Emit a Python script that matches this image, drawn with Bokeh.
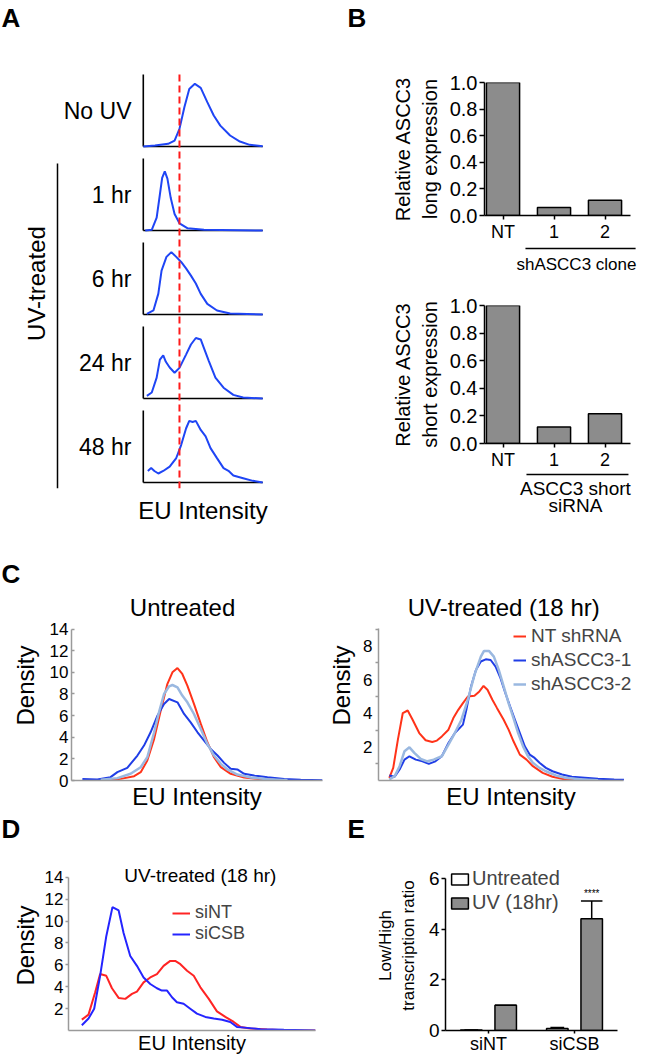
import math
from bokeh.plotting import figure
from bokeh.layouts import row, column
from bokeh.models import (Range1d, FactorRange, FixedTicker, Legend, LegendItem,
                          ColumnDataSource, PrintfTickFormatter)
from bokeh.transform import dodge
from bokeh.embed import file_html
from bokeh.resources import INLINE
from bokeh.core.properties import value

FONT = "Liberation Sans"

# ---------------- data ----------------
# Panel A: EU intensity distributions (fraction of panel height)
a_groups = ["No UV", "1 hr", "6 hr", "24 hr", "48 hr"]
a_threshold = 30.3
a_nouv_x = [0, 9.8, 20.8, 26.2, 30.3, 34.4, 38.5, 43.2, 48.1, 53.6, 59.0, 64.5, 72.7, 80.9, 89.1, 100]
a_nouv_y = [0.0, 0.014, 0.037, 0.083, 0.245, 0.546, 0.80, 0.87, 0.815, 0.616, 0.43, 0.29, 0.153, 0.069, 0.023, 0.005]
a_1h_x = [1.6, 7.1, 11.2, 13.9, 15.8, 18.0, 20.2, 23.0, 26.2, 30.3, 37.2, 50.8, 100]
a_1h_y = [0.0, 0.01, 0.18, 0.50, 0.73, 0.82, 0.72, 0.45, 0.23, 0.10, 0.03, 0.01, 0.0]
a_6h_x = [3.0, 8.5, 12.6, 15.3, 19.4, 23.5, 27.6, 31.7, 35.8, 39.9, 44.0, 48.1, 53.6, 61.7, 72.7, 100]
a_6h_y = [0.01, 0.056, 0.29, 0.61, 0.80, 0.866, 0.80, 0.73, 0.64, 0.54, 0.43, 0.287, 0.148, 0.056, 0.014, 0.0]
a_24h_x = [3.0, 7.1, 11.2, 13.9, 16.7, 18.9, 22.1, 26.2, 30.3, 35.8, 39.9, 44.0, 48.1, 50.8, 54.9, 60.4, 67.2, 75.4, 83.6, 100]
a_24h_y = [0.037, 0.083, 0.29, 0.54, 0.60, 0.51, 0.43, 0.358, 0.425, 0.61, 0.75, 0.84, 0.82, 0.70, 0.52, 0.29, 0.15, 0.05, 0.014, 0.0]
a_48h_x = [3.8, 6.6, 9.3, 12.6, 16.7, 22.1, 27.6, 31.7, 35.8, 38.5, 41.3, 44.0, 48.1, 52.2, 56.3, 61.7, 67.2, 71.3, 75.4, 83.6, 91.8, 100]
a_48h_y = [0.16, 0.20, 0.16, 0.125, 0.16, 0.22, 0.34, 0.52, 0.75, 0.856, 0.84, 0.856, 0.73, 0.64, 0.477, 0.338, 0.199, 0.162, 0.097, 0.06, 0.023, 0.0]

# Panel B: relative expression
b_cats = ["NT", "1", "2"]
b_long = [1.0, 0.06, 0.115]
b_short = [1.0, 0.12, 0.215]
b_ticks = [0.0, 0.2, 0.4, 0.6, 0.8, 1.0]

# Panel C left: Untreated
c1_nt_x = [15.1, 20.4, 25.7, 28.3, 30.9, 33.6, 36.2, 38.8, 40.8, 42.8, 44.7, 46.7, 49.3, 52.0, 54.6, 57.2, 59.9, 63.8, 69.1, 75.7, 84.9]
c1_nt_y = [0.03, 0.15, 0.40, 0.77, 1.85, 3.85, 6.46, 8.92, 10.0, 10.4, 9.85, 8.77, 7.08, 5.23, 3.54, 2.15, 1.23, 0.62, 0.28, 0.12, 0.0]
c1_s1_x = [5.3, 11.2, 16.4, 19.1, 23.0, 27.0, 29.6, 32.2, 34.9, 37.5, 39.5, 42.8, 45.4, 48.0, 50.7, 53.3, 55.9, 58.6, 61.2, 63.8, 66.4, 69.1, 73.0, 78.3, 84.9, 91.4, 100]
c1_s1_y = [0.15, 0.09, 0.31, 0.77, 1.17, 2.31, 3.23, 4.46, 6.0, 7.08, 7.54, 7.23, 6.15, 5.38, 4.46, 3.69, 2.92, 2.31, 1.63, 1.08, 1.02, 0.62, 0.46, 0.31, 0.15, 0.06, 0.03]
c1_s2_x = [12.5, 19.1, 24.3, 28.3, 30.9, 33.6, 35.5, 37.5, 39.5, 40.8, 42.8, 44.7, 46.7, 49.3, 52.0, 54.6, 57.2, 59.9, 62.5, 66.4, 71.7, 78.3, 86.2]
c1_s2_y = [0.06, 0.22, 0.62, 1.23, 2.15, 4.46, 6.31, 8.0, 8.71, 8.83, 8.62, 7.85, 7.23, 6.15, 4.77, 3.38, 2.31, 1.54, 1.02, 0.55, 0.28, 0.12, 0.03]
c1_ticks = [0, 2, 4, 6, 8, 10, 12, 14]

# Panel C right: UV-treated (18 hr)
c2_nt_x = [4.4, 6.0, 7.9, 9.9, 11.9, 13.9, 16.6, 19.2, 21.9, 23.8, 25.8, 28.5, 30.5, 32.5, 34.4, 36.4, 39.1, 41.1, 42.8, 44.4, 46.4, 48.3, 51.0, 53.0, 55.0, 57.6, 60.3, 62.9, 66.9, 70.9, 76.2, 82.8]
c2_nt_y = [0.16, 0.75, 2.43, 4.01, 4.16, 3.61, 2.82, 2.39, 2.29, 2.37, 2.62, 3.02, 3.71, 4.20, 4.60, 4.99, 5.03, 5.29, 5.62, 5.39, 4.80, 4.30, 3.61, 3.02, 2.33, 1.54, 1.24, 0.85, 0.45, 0.22, 0.06, 0.0]
c2_s1_x = [4.4, 6.6, 8.6, 10.6, 12.6, 15.2, 17.9, 20.5, 23.2, 25.8, 28.5, 31.1, 34.4, 35.8, 37.7, 39.7, 41.7, 43.7, 45.7, 47.7, 49.7, 51.7, 53.6, 55.6, 57.6, 59.6, 61.6, 63.6, 65.6, 68.2, 70.9, 74.8, 78.8, 84.1, 89.4, 96.0, 100]
c2_s1_y = [0.30, 0.22, 0.65, 1.24, 1.44, 1.24, 1.14, 0.99, 1.14, 1.44, 2.23, 2.82, 3.32, 4.20, 5.59, 6.57, 7.07, 7.20, 7.16, 6.77, 6.08, 5.19, 4.40, 3.61, 2.82, 2.03, 1.54, 1.34, 1.05, 0.75, 0.55, 0.36, 0.22, 0.16, 0.10, 0.06, 0.04]
c2_s2_x = [4.4, 6.6, 8.6, 10.6, 12.6, 14.6, 17.2, 19.9, 22.5, 25.8, 28.5, 31.1, 33.8, 36.4, 39.1, 41.7, 43.0, 45.0, 47.0, 49.0, 51.0, 53.0, 55.0, 56.9, 58.9, 60.9, 62.9, 65.6, 68.2, 72.2, 76.2, 82.8, 89.4]
c2_s2_y = [0.06, 0.26, 0.85, 1.74, 1.97, 1.64, 1.28, 1.14, 1.24, 1.44, 2.13, 2.82, 3.61, 4.80, 6.28, 7.36, 7.70, 7.70, 7.36, 6.57, 5.59, 4.60, 3.71, 2.82, 2.03, 1.44, 1.05, 0.75, 0.55, 0.30, 0.16, 0.06, 0.02]
c2_ticks = [2, 4, 6, 8]
c2_minor = [1, 3, 5, 7, 9]

# Panel D: UV-treated (18 hr), siNT vs siCSB
d_nt_x = [5.4, 8.1, 10.8, 12.8, 15.3, 17.6, 20.3, 23.0, 25.7, 27.7, 30.4, 33.1, 35.8, 38.5, 41.2, 43.2, 45.3, 48.0, 50.7, 53.4, 56.8, 60.1, 63.5, 66.9, 69.6, 73.6, 80.4, 87.2, 100]
d_nt_y = [0.99, 1.45, 3.50, 5.16, 5.00, 3.86, 2.98, 2.89, 3.35, 3.56, 4.40, 4.85, 5.16, 5.91, 6.36, 6.36, 6.06, 5.46, 5.00, 3.95, 2.89, 1.75, 1.24, 0.78, 0.33, 0.18, 0.09, 0.03, 0.0]
d_csb_x = [5.4, 8.1, 10.4, 12.8, 15.3, 17.8, 20.3, 22.3, 25.0, 27.7, 30.4, 33.1, 35.8, 37.8, 39.9, 41.9, 43.9, 46.6, 49.3, 52.0, 55.4, 58.8, 62.2, 65.5, 68.2, 72.3, 77.7, 87.2, 100]
d_csb_y = [0.48, 1.09, 1.99, 5.00, 8.62, 11.28, 10.97, 8.92, 6.81, 5.91, 4.85, 4.25, 3.86, 3.65, 3.65, 3.04, 2.59, 2.44, 1.99, 1.54, 1.24, 1.09, 0.99, 0.78, 0.33, 0.24, 0.12, 0.06, 0.0]
d_ticks = [2, 4, 6, 8, 10, 12, 14]

# Panel E: Low/High transcription ratio
e_groups = ["siNT", "siCSB"]
e_untreated = [0.02, 0.08]
e_untreated_err = [0.0, 0.04]
e_uv = [1.0, 4.4]
e_uv_err = [0.0, 0.7]
e_sig = ["", "****"]
e_ticks = [0, 2, 4, 6]

# ---------------- styles ----------------
BLUE_A = "#1f45f5"
RED_A = "#ff1a1a"
GRAY = "#8c8c8c"
C_RED = "#ff3319"
C_BLUE = "#1f3de6"
C_LBLUE = "#9ab8e0"
D_RED = "#ff2424"
D_BLUE = "#2424ff"
AX_GRAY = "#9a9a9a"
W = 648


def make_fig(w, h, l, r, t, b, **kw):
    p = figure(width=w, height=h, output_backend="svg", toolbar_location=None,
               min_border_left=l, min_border_right=r, min_border_top=t, min_border_bottom=b, **kw)
    p.outline_line_color = None
    p.xgrid.grid_line_color = None
    p.ygrid.grid_line_color = None
    p.background_fill_color = "white"
    p.border_fill_color = "white"
    return p


def style_axis(ax, size="17px", color="black", width=1.5):
    ax.axis_line_color = color
    ax.axis_line_width = width
    ax.major_tick_line_color = color
    ax.major_tick_line_width = width
    ax.minor_tick_line_color = None
    ax.major_label_text_font = FONT
    ax.major_label_text_font_size = size
    ax.major_label_text_color = "black"
    ax.axis_label_text_font = FONT
    ax.axis_label_text_font_style = "normal"
    ax.axis_label_text_color = "black"


def header(h, items):
    p = make_fig(W, h, 0, 0, 0, 0, x_range=Range1d(0, W), y_range=Range1d(h, 0))
    p.axis.visible = False
    for t, x, y in items:
        p.text(x=[x], y=[y], text=[t], text_font=value(FONT), text_font_size="26px",
               text_font_style="bold", text_baseline="middle", text_align="left")
    return p


def add_text(p, text, x, y, size):
    p.text(x=[x], y=[y], text=[text], text_font=value(FONT), text_font_size=size,
           text_align="center", text_baseline="middle")


# ---------------- Panel A ----------------
BAND = 0.4286


def ridge(cat, vals):
    return [(cat, -BAND + 2 * BAND * v) for v in vals]


a_yrange = FactorRange(factors=a_groups[::-1], range_padding=0)
figA = make_fig(240, 492, 80, 36, 32, 40, x_range=Range1d(-1.5, 101.5), y_range=a_yrange)
ax = figA.xaxis[0]
style_axis(ax)
ax.ticker = FixedTicker(ticks=[])
ax.axis_line_color = None
ax.major_tick_line_color = None
ax.major_tick_out = 0
ax.major_label_standoff = 0
ax.axis_label = "EU Intensity"
ax.axis_label_text_font_size = "24px"
ax.axis_label_standoff = 8
ay = figA.yaxis[0]
style_axis(ay, size="23px")
ay.axis_line_color = None
ay.major_tick_line_color = None
ay.major_tick_out = 0
ay.major_tick_in = 0
ay.major_label_standoff = 10

curves = [(a_nouv_x, a_nouv_y), (a_1h_x, a_1h_y), (a_6h_x, a_6h_y), (a_24h_x, a_24h_y), (a_48h_x, a_48h_y)]
xmin, xmax = 0, 100
figA.segment(x0=[xmin] * 5, y0=[(c, -BAND) for c in a_groups], x1=[xmax] * 5,
             y1=[(c, -BAND) for c in a_groups], line_color="black", line_width=1.6)
figA.segment(x0=[xmin] * 5, y0=[(c, -BAND) for c in a_groups], x1=[xmin] * 5,
             y1=[(c, BAND) for c in a_groups], line_color="black", line_width=1.6)
for cat, (xs, ys) in zip(a_groups, curves):
    figA.line(x=xs, y=ridge(cat, ys), line_color=BLUE_A, line_width=2)
figA.segment(x0=[a_threshold], y0=[(a_groups[0], BAND)], x1=[a_threshold],
             y1=[(a_groups[-1], -0.5)], line_color=RED_A, line_width=2, line_dash="7 4")

figAb = make_fig(60, 492, 0, 0, 32, 40, x_range=Range1d(0, 60), y_range=a_yrange)
figAb.axis.visible = False
figAb.segment(x0=[57], y0=[(a_groups[1], 0.37)], x1=[57], y1=[(a_groups[-1], -0.5)],
              line_color="black", line_width=1.5)
figAb.text(x=[36], y=[(a_groups[2], -0.06)], text=["UV-treated"], angle=math.pi / 2,
           text_align="center", text_baseline="middle", text_font=value(FONT), text_font_size="24px")

# ---------------- Panel B ----------------
B_XR = (-0.363, 2.696)


def bar_b(height, top, bottom, vals, ylabel):
    p = make_fig(348, height, 184, 8, top, bottom, x_range=Range1d(*B_XR), y_range=Range1d(0, 1.0))
    p.vbar(x=list(range(len(b_cats))), top=vals, width=0.65, fill_color=GRAY,
           line_color="black", line_width=1.5)
    yx = p.yaxis[0]
    style_axis(yx, size="20px")
    yx.ticker = FixedTicker(ticks=b_ticks)
    yx.formatter = PrintfTickFormatter(format="%.1f")
    yx.major_tick_out = 5
    yx.major_tick_in = 0
    yx.major_label_standoff = 2
    yx.axis_label = ylabel
    yx.axis_label_text_font_size = "20px"
    yx.axis_label_standoff = 6
    xx = p.xaxis[0]
    style_axis(xx, size="18px")
    xx.bounds = (B_XR[0], 2.5)
    xx.ticker = FixedTicker(ticks=list(range(len(b_cats))))
    xx.major_label_overrides = {i: c for i, c in enumerate(b_cats)}
    xx.major_tick_out = 4
    xx.major_tick_in = 0
    xx.major_label_standoff = 2
    return p


def group_fig(height, line_y, x0, x1, texts):
    p = make_fig(348, height, 184, 8, 0, 0, x_range=Range1d(*B_XR), y_range=Range1d(height, 0))
    p.axis.visible = False
    p.segment(x0=[x0], y0=[line_y], x1=[x1], y1=[line_y], line_color="black", line_width=1.5)
    for t, tx, ty, size in texts:
        add_text(p, t, tx, ty, size)
    return p


figB1 = bar_b(208, 46, 27, b_long, "Relative ASCC3\nlong expression")
figB1g = group_fig(30, 4, 0.44, 2.6, [("shASCC3 clone", 1.44, 20, "17px")])
figB2 = bar_b(198, 31, 27, b_short, "Relative ASCC3\nshort expression")
figB2g = group_fig(56, 2, 0.46, 2.46, [("ASCC3 short", 1.42, 16, "19px"), ("siRNA", 1.42, 33, "19px")])


# ---------------- Panel C ----------------
def density_fig(w, l, r, xr, xbound, yend, bound, ticks, minor=None):
    p = make_fig(w, 222, l, r, 0, 30, x_range=Range1d(*xr), y_range=Range1d(0, yend))
    yx = p.yaxis[0]
    style_axis(yx, color=AX_GRAY)
    yx.bounds = (0, bound)
    yx.ticker = FixedTicker(ticks=ticks, minor_ticks=minor or [])
    yx.major_label_standoff = 3
    yx.axis_label = "Density"
    yx.axis_label_text_font_size = "24px"
    xx = p.xaxis[0]
    style_axis(xx, color=AX_GRAY)
    xx.bounds = xbound
    xx.ticker = FixedTicker(ticks=[])
    xx.major_label_standoff = 0
    xx.axis_label = "EU Intensity"
    xx.axis_label_text_font_size = "24px"
    xx.axis_label_standoff = 2
    return p


figC1 = density_fig(325, 71, 3, (1, 100), (1, 100), 17.57, 14, c1_ticks)
figC1.yaxis[0].major_tick_in = 3
figC1.yaxis[0].major_tick_out = 0
figC1.yaxis[0].axis_label_standoff = 8
figC1.line(c1_nt_x, c1_nt_y, line_color=C_RED, line_width=2)
figC1.line(c1_s1_x, c1_s1_y, line_color=C_BLUE, line_width=2)
figC1.line(c1_s2_x, c1_s2_y, line_color=C_LBLUE, line_width=2.5)
add_text(figC1, "Untreated", 44.8, 16.0, "24px")

figC2 = density_fig(323, 47, 5, (0, 107.97), (0, 100), 11.29, 9.06, c2_ticks, c2_minor)
c2y = figC2.yaxis[0]
c2y.major_tick_out = 0
c2y.major_tick_in = 0
c2y.minor_tick_line_color = AX_GRAY
c2y.minor_tick_line_width = 1.5
c2y.minor_tick_out = 3
c2y.minor_tick_in = 0
c2y.axis_label_standoff = 5
r1 = figC2.line(c2_nt_x, c2_nt_y, line_color=C_RED, line_width=2)
r2 = figC2.line(c2_s1_x, c2_s1_y, line_color=C_BLUE, line_width=2)
r3 = figC2.line(c2_s2_x, c2_s2_y, line_color=C_LBLUE, line_width=2.5)
add_text(figC2, "UV-treated (18 hr)", 51.0, 10.3, "24px")
legC = Legend(items=[LegendItem(label="NT shRNA", renderers=[r1]),
                     LegendItem(label="shASCC3-1", renderers=[r2]),
                     LegendItem(label="shASCC3-2", renderers=[r3])],
              location=(135, 85), glyph_width=13, glyph_height=22, label_height=22,
              spacing=2, padding=0, margin=0, label_standoff=5,
              label_text_font=FONT, label_text_font_size="19px",
              background_fill_color=None, border_line_color=None)
figC2.add_layout(legC)

# ---------------- Panel D ----------------
figD = make_fig(330, 211, 68, 15, 15, 24, x_range=Range1d(0, 100), y_range=Range1d(0, 15.54))
dy = figD.yaxis[0]
style_axis(dy, color=AX_GRAY)
dy.bounds = (0, 14)
dy.ticker = FixedTicker(ticks=d_ticks)
dy.major_tick_out = 3
dy.major_tick_in = 0
dy.major_label_standoff = 2
dy.axis_label = "Density"
dy.axis_label_text_font_size = "24px"
dy.axis_label_standoff = 3
dx = figD.xaxis[0]
style_axis(dx, color=AX_GRAY)
dx.ticker = FixedTicker(ticks=[])
dx.major_label_standoff = 0
dx.axis_label = "EU Intensity"
dx.axis_label_text_font_size = "20px"
dx.axis_label_standoff = 1
rd1 = figD.line(d_nt_x, d_nt_y, line_color=D_RED, line_width=2)
rd2 = figD.line(d_csb_x, d_csb_y, line_color=D_BLUE, line_width=2)
add_text(figD, "UV-treated (18 hr)", 53.4, 14.18, "19px")
for lbl, rr, ly in [("siNT", rd1, 107), ("siCSB", rd2, 86)]:
    figD.add_layout(Legend(items=[LegendItem(label=lbl, renderers=[rr])],
                           location=(104, ly), glyph_width=18, glyph_height=20, label_height=20,
                           spacing=0, padding=0, margin=0, label_standoff=5,
                           label_text_font=FONT, label_text_font_size="18px",
                           background_fill_color=None, border_line_color=None))

# ---------------- Panel E ----------------
e_src = ColumnDataSource(dict(
    g=e_groups, untreated=e_untreated, uv=e_uv,
    un_hi=[v + e for v, e in zip(e_untreated, e_untreated_err)],
    uv_hi=[v + e for v, e in zip(e_uv, e_uv_err)], sig=e_sig))
figE = make_fig(318, 211, 115, 31, 15, 24, x_range=FactorRange(*e_groups, range_padding=0),
                y_range=Range1d(0, 6.70))
ru = figE.vbar(x=dodge("g", -0.2, range=figE.x_range), top="untreated", width=0.25, source=e_src,
               fill_color="white", line_color="black", line_width=1.5)
rv = figE.vbar(x=dodge("g", 0.2, range=figE.x_range), top="uv", width=0.25, source=e_src,
               fill_color=GRAY, line_color="black", line_width=1.5)
for off, lo, hi, cap in [(-0.2, "untreated", "un_hi", 0.08), (0.2, "uv", "uv_hi", 0.125)]:
    figE.segment(x0=dodge("g", off, range=figE.x_range), y0=lo, x1=dodge("g", off, range=figE.x_range),
                 y1=hi, source=e_src, line_color="black", line_width=1.5)
    figE.segment(x0=dodge("g", off - cap, range=figE.x_range), y0=hi,
                 x1=dodge("g", off + cap, range=figE.x_range), y1=hi, source=e_src,
                 line_color="black", line_width=1.5)
figE.text(x=dodge("g", 0.2, range=figE.x_range), y="uv_hi", text="sig", source=e_src,
          text_align="center", text_baseline="bottom", y_offset=-2,
          text_font=value(FONT), text_font_size="10px")
ey = figE.yaxis[0]
style_axis(ey, size="19px")
ey.bounds = (0, 6)
ey.ticker = FixedTicker(ticks=e_ticks)
ey.major_tick_out = 4
ey.major_tick_in = 0
ey.major_label_standoff = 2
ey.axis_label = "Low/High\ntranscription ratio"
ey.axis_label_text_font_size = "17px"
ey.axis_label_standoff = 8
ex = figE.xaxis[0]
style_axis(ex, size="18px")
ex.major_tick_out = 3
ex.major_tick_in = 0
ex.major_label_standoff = 0
legE = Legend(items=[LegendItem(label="Untreated", renderers=[ru]),
                     LegendItem(label="UV (18hr)", renderers=[rv])],
              location=(4, 116), glyph_width=21, glyph_height=14, label_height=23,
              spacing=1, padding=0, margin=0, label_standoff=2,
              label_text_font=FONT, label_text_font_size="20px",
              background_fill_color=None, border_line_color=None)
figE.add_layout(legE)

# ---------------- layout ----------------
hdr1 = header(36, [("A", 1, 17.5), ("B", 347, 17.5)])
hdr2 = header(62, [("C", 1, 45)])
hdr3 = header(33, [("D", 1, 16.5), ("E", 347, 16.5)])

layout = column(
    hdr1,
    row(figAb, figA, column(figB1, figB1g, figB2, figB2g)),
    hdr2,
    row(figC1, figC2),
    hdr3,
    row(figD, figE),
)

open("out.html", "w").write(file_html(layout, INLINE))
